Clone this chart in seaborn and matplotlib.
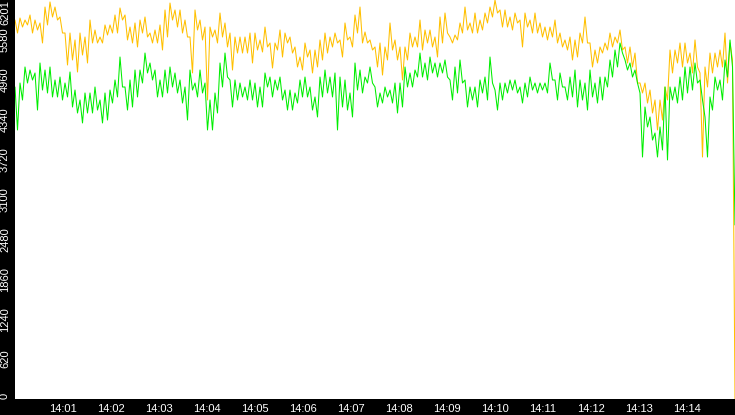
import numpy as np
import pandas as pd
import matplotlib
matplotlib.use("Agg")
import matplotlib.pyplot as plt
import seaborn as sns

# ---- data (two samples per 6.25 s bucket) ----
orange_values = [
    5890, 5688, 5921, 5781, 5890, 5813, 5968, 5688, 5890, 5735, 5844, 5533,
    6092, 5813, 6170, 5937, 6092, 5890, 5937, 5688, 5688, 5191, 5688, 5269,
    5580, 5082, 5688, 5346, 5626, 5222, 5890, 5533, 5735, 5533, 5626, 5533,
    5813, 5657, 5813, 5688, 5968, 5688, 6077, 5890, 5968, 5580, 5781, 5533,
    5844, 5471, 5890, 5688, 5937, 5626, 5688, 5533, 5735, 5533, 5813, 5424,
    6046, 5626, 6154, 5890, 6046, 5781, 6046, 5688, 5890, 5626, 5626, 5067,
    6046, 5735, 5890, 5580, 5781, 4647, 5781, 5626, 5735, 5533, 5999, 5626,
    5844, 5471, 5688, 5113, 5626, 5377, 5626, 5377, 5626, 5377, 5688, 5222,
    5688, 5424, 5580, 5393, 5781, 5471, 5533, 5144, 5533, 5424, 5735, 5315,
    5688, 5533, 5626, 5377, 5471, 5160, 5315, 5113, 5533, 5315, 5424, 5067,
    5424, 5160, 5580, 5269, 5688, 5377, 5626, 5471, 5688, 5533, 5580, 5315,
    5844, 5580, 5626, 5471, 5968, 5688, 6092, 5533, 5704, 5533, 5580, 5424,
    5471, 5160, 5533, 5035, 5471, 5269, 5844, 5424, 5580, 5269, 5471, 4958,
    5471, 5269, 5688, 5471, 5626, 5471, 5890, 5424, 5735, 5533, 5735, 5471,
    5626, 5315, 5937, 5533, 5999, 5688, 5626, 5533, 5657, 5580, 5844, 5688,
    6092, 5735, 5844, 5688, 5999, 5688, 5890, 5735, 5999, 5844, 6092, 5937,
    6201, 5999, 6046, 5781, 6046, 5781, 5937, 5735, 5999, 5844, 5890, 5471,
    5999, 5781, 5890, 5688, 5999, 5688, 5844, 5626, 5781, 5580, 5781, 5626,
    5890, 5533, 5688, 5471, 5580, 5424, 5626, 5269, 5580, 5315, 5688, 5533,
    5937, 5533, 5533, 5160, 5424, 5222, 5471, 5377, 5533, 5424, 5688, 5471,
    5626, 5533, 5735, 5424, 5471, 5222, 5471, 5160, 5377, 4911, 4911, 4756,
    4911, 4600, 4802, 4445, 4647, 4181, 4647, 4336, 4849, 4647, 5424, 5067,
    5424, 5222, 5533, 5160, 5533, 5222, 5377, 5067, 5580, 5160, 5067, 3761,
    5160, 4849, 5377, 5067, 5377, 5160, 5424, 5160, 5688, 4911, 5533, 5269,
    0,
]

green_values = [
    4849, 4181, 4911, 4647, 5160, 4911, 5113, 4958, 5067, 4491, 5222, 4802,
    5113, 4756, 5160, 4694, 4958, 4694, 5004, 4647, 4911, 4694, 5082, 4538,
    4802, 4445, 4647, 4290, 4756, 4445, 4756, 4445, 4849, 4491, 4647, 4290,
    4756, 4336, 4802, 4600, 4958, 4694, 5315, 4849, 4849, 4491, 4958, 4538,
    5113, 4694, 5113, 4911, 5377, 5067, 5222, 4958, 5113, 4694, 4958, 4694,
    5113, 4756, 5160, 4849, 5067, 4756, 4958, 4600, 4849, 4336, 5113, 4802,
    4911, 4694, 5113, 4756, 4911, 4181, 4647, 4181, 4756, 4445, 5222, 4849,
    5377, 5004, 4958, 4538, 4958, 4647, 4911, 4694, 4849, 4647, 4958, 4647,
    4911, 4538, 4849, 4538, 5067, 4849, 5004, 4694, 4958, 4802, 5004, 4647,
    4802, 4491, 4802, 4491, 4756, 4600, 4958, 4694, 5004, 4694, 4849, 4491,
    4694, 4383, 5004, 4694, 5113, 4756, 5004, 4694, 5067, 4181, 5004, 4538,
    4958, 4491, 4756, 4383, 5222, 4802, 5113, 4756, 5004, 4911, 5160, 4911,
    4849, 4538, 4756, 4600, 4849, 4694, 4802, 4600, 4911, 4445, 4911, 4538,
    5160, 4849, 5067, 4849, 5113, 5004, 5377, 5004, 5222, 4958, 5315, 5067,
    5222, 5004, 5222, 5067, 5269, 5004, 4958, 4647, 5160, 4756, 5269, 4911,
    4958, 4538, 4849, 4647, 4849, 4538, 4958, 4756, 5004, 4647, 5315, 4911,
    4802, 4491, 4911, 4647, 4911, 4756, 4958, 4802, 4958, 4756, 4849, 4600,
    4911, 4694, 5004, 4802, 4911, 4756, 4911, 4802, 4911, 4756, 5222, 4958,
    4958, 4647, 5067, 4849, 4849, 4647, 5004, 4694, 5113, 4538, 4958, 4647,
    4911, 4491, 5113, 4694, 4911, 4600, 5004, 4647, 5004, 4849, 5269, 5004,
    5424, 5160, 5533, 5377, 5269, 5113, 5222, 5004, 5113, 4911, 4756, 3761,
    4538, 4228, 4383, 4025, 4134, 3761, 4228, 3870, 4849, 3715, 4849, 4647,
    4849, 4600, 5004, 4647, 5160, 4756, 5160, 4802, 5222, 4911, 4958, 4647,
    4383, 3761, 4694, 4491, 5004, 4802, 4958, 4647, 5269, 5004, 5580, 5160,
    2705,
]

y_ticks = [0, 620, 1240, 1860, 2480, 3100, 3720, 4340, 4960, 5580, 6201]
x_tick_labels = ["14:01", "14:02", "14:03", "14:04", "14:05", "14:06", "14:07",
                 "14:08", "14:09", "14:10", "14:11", "14:12", "14:13", "14:14"]
start_time = "2024-01-01 14:00:00"
end_time = "2024-01-01 14:15:00"

times = pd.date_range(start_time, end_time, periods=len(orange_values))
df = pd.DataFrame({"time": times, "orange": orange_values, "green": green_values})

sns.set_style("white")
plt.rcParams["font.family"] = ["Liberation Sans", "DejaVu Sans"]

PX = 72 / 100  # points per pixel at dpi 100

fig = plt.figure(figsize=(7.35, 4.15), dpi=100, facecolor="black")
ax = fig.add_axes([15 / 735, 16 / 415, 720 / 735, 399 / 415])
ax.set_facecolor("white")

sns.lineplot(data=df, x="time", y="orange", ax=ax, color="#FFC000",
             linewidth=0.75, estimator=None)
sns.lineplot(data=df, x="time", y="green", ax=ax, color="#00EE00",
             linewidth=0.75, estimator=None)

ax.set_xlim(pd.Timestamp(start_time), pd.Timestamp(end_time))
ax.set_ylim(0, 6201)

ax.set_yticks(y_ticks)
ax.set_yticklabels([str(v) for v in y_ticks])
xt = [pd.Timestamp("2024-01-01 " + s) for s in x_tick_labels]
ax.set_xticks(xt)
ax.set_xticklabels(x_tick_labels)

ax.tick_params(axis="both", colors="white", labelcolor="white",
               length=5 * PX, width=1 * PX, direction="out", labelsize=8)
ax.tick_params(axis="x", pad=0)
ax.tick_params(axis="y", pad=10 * PX)

for i, lab in enumerate(ax.get_yticklabels()):
    lab.set_rotation(90)
    lab.set_ha("left")
    if i == len(y_ticks) - 1:
        lab.set_va("top")
    elif i == 0:
        lab.set_va("bottom")
    else:
        lab.set_va("center")

ax.set_xlabel("")
ax.set_ylabel("")
for s in ax.spines.values():
    s.set_visible(False)
ax.grid(False)

fig.savefig("out.png", dpi=100, facecolor="black")
